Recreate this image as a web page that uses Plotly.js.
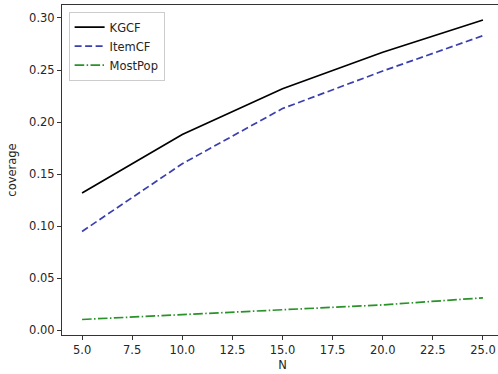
<!DOCTYPE html>
<html><head><meta charset="utf-8">
<script src="https://cdn.plot.ly/plotly-3.0.1.min.js"></script>
<style>html,body{margin:0;padding:0;overflow:hidden;background:#fff;width:498px;height:374px}</style>
</head><body>
<div id="chart" style="width:520px;height:374px"></div>
<script>
const N = [5, 10, 15, 20, 25];
const kgcf = [0.132, 0.188, 0.232, 0.267, 0.298];
const itemcf = [0.095, 0.160, 0.213, 0.249, 0.283];
const mostpop = [0.0105, 0.0153, 0.0195, 0.0245, 0.0313];
const yTicks = [0.00, 0.05, 0.10, 0.15, 0.20, 0.25, 0.30];
const xTicks = [5.0, 7.5, 10.0, 12.5, 15.0, 17.5, 20.0, 22.5, 25.0];

const font = {family: 'DejaVu Sans', size: 11.5, color: '#262626'};
const traces = [
  {x: N, y: kgcf, name: 'KGCF', mode: 'lines', line: {color: '#000000', width: 1.7}},
  {x: N, y: itemcf, name: 'ItemCF', mode: 'lines', line: {color: '#3a3fae', width: 1.7, dash: '7px,3.5px'}},
  {x: N, y: mostpop, name: 'MostPop', mode: 'lines', line: {color: '#2a922a', width: 1.7, dash: '9.6px,2.4px,1.5px,2.4px'}}
];
const axisCommon = {
  showgrid: false, zeroline: false, showline: true, mirror: true,
  linecolor: '#333333', linewidth: 1, ticks: 'outside', ticklen: 4, tickwidth: 1,
  tickcolor: '#333333', tickfont: font
};
const layout = {
  width: 520, height: 374,
  margin: {l: 62, r: 17, t: 5, b: 39},
  paper_bgcolor: '#ffffff', plot_bgcolor: '#ffffff',
  font: font,
  showlegend: true,
  legend: {x: 0.015, y: 0.98, xanchor: 'left', yanchor: 'top',
    bgcolor: 'rgba(255,255,255,0.8)', bordercolor: '#cccccc', borderwidth: 1,
    font: font, tracegroupgap: 0, itemwidth: 30},
  xaxis: Object.assign({}, axisCommon, {range: [4, 26], tickvals: xTicks,
    ticktext: xTicks.map(v => v.toFixed(1)),
    title: {text: 'N', font: font, standoff: 5}}),
  yaxis: Object.assign({}, axisCommon, {range: [-0.0044, 0.3124], tickvals: yTicks,
    ticktext: yTicks.map(v => v.toFixed(2)),
    title: {text: 'coverage', font: font, standoff: 10}})
};
Plotly.newPlot('chart', traces, layout, {displayModeBar: false, staticPlot: true});
</script>
</body></html>
